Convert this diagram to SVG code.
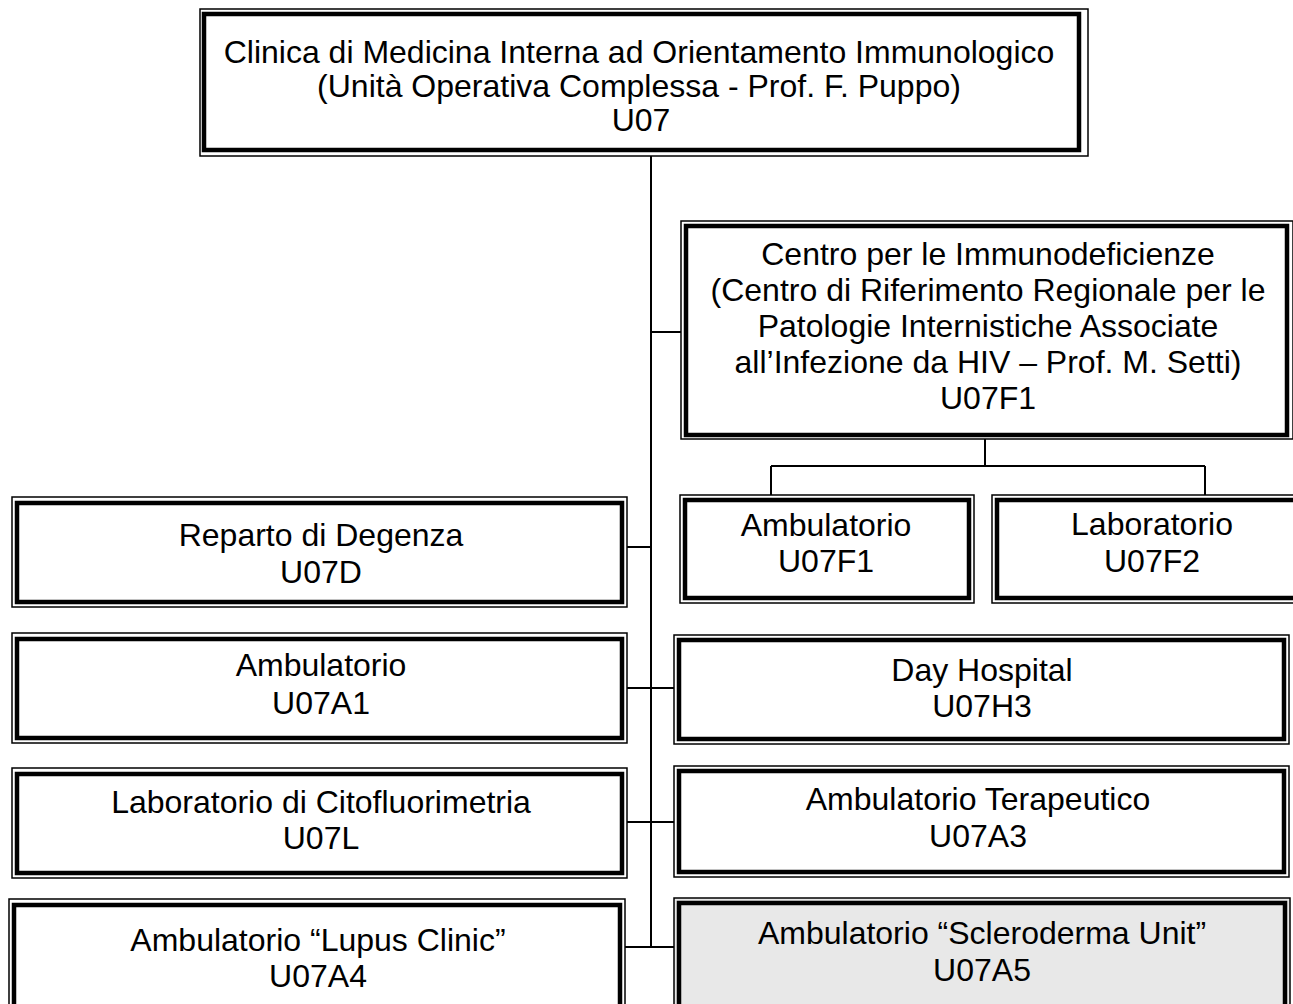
<svg xmlns="http://www.w3.org/2000/svg" width="1293" height="1004" viewBox="0 0 1293 1004">
<style>
.o{fill:none;stroke:#000;stroke-width:1.5}
.i{fill:none;stroke:#000;stroke-width:4.5}
.bg{fill:#fff}
.gray{fill:#e8e8e8}
text{font-family:"Liberation Sans",Arial,sans-serif;font-size:32px;fill:#000;text-anchor:middle}
.c line{stroke:#000;stroke-width:2}
</style>
<rect width="1293" height="1004" fill="#fff"/>
<g class="c" id="connectors">
<line x1="651" y1="156" x2="651" y2="948"/>
<line x1="651" y1="332" x2="681" y2="332"/>
<line x1="627" y1="547" x2="651" y2="547"/>
<line x1="627" y1="688" x2="674" y2="688"/>
<line x1="627" y1="822" x2="674" y2="822"/>
<line x1="625" y1="947" x2="674" y2="947"/>
<line x1="985" y1="439" x2="985" y2="466"/>
<line x1="771" y1="466" x2="1205" y2="466"/>
<line x1="771" y1="466" x2="771" y2="495"/>
<line x1="1205" y1="466" x2="1205" y2="495"/>
</g>
<g id="n-u07">
<rect class="bg" x="200" y="9" width="888" height="147"/>
<rect class="o" x="200" y="9" width="888" height="147"/>
<rect class="i" x="204" y="14" width="875" height="136"/>
<text x="639" y="63">Clinica di Medicina Interna ad Orientamento Immunologico</text>
<text x="639" y="97">(Unità Operativa Complessa - Prof. F. Puppo)</text>
<text x="641" y="131">U07</text>
</g>
<g id="n-u07f1-centro">
<rect class="bg" x="681" y="221" width="612" height="218"/>
<rect class="o" x="681" y="221" width="612" height="218"/>
<rect class="i" x="686" y="226" width="601" height="209"/>
<text x="988" y="265">Centro per le Immunodeficienze</text>
<text x="988" y="301">(Centro di Riferimento Regionale per le</text>
<text x="988" y="337">Patologie Internistiche Associate</text>
<text x="988" y="373">all’Infezione da HIV – Prof. M. Setti)</text>
<text x="988" y="409">U07F1</text>
</g>
<g id="n-u07f1-amb">
<rect class="bg" x="680" y="495" width="294" height="108"/>
<rect class="o" x="680" y="495" width="294" height="108"/>
<rect class="i" x="685" y="500" width="284" height="98"/>
<text x="826" y="536">Ambulatorio</text>
<text x="826" y="572">U07F1</text>
</g>
<g id="n-u07f2">
<rect class="bg" x="992" y="495" width="310" height="108"/>
<rect class="o" x="992" y="495" width="310" height="108"/>
<rect class="i" x="997" y="500" width="300" height="98"/>
<text x="1152" y="535">Laboratorio</text>
<text x="1152" y="572">U07F2</text>
</g>
<g id="n-u07d">
<rect class="bg" x="12" y="497" width="615" height="110"/>
<rect class="o" x="12" y="497" width="615" height="110"/>
<rect class="i" x="17" y="503" width="605" height="99"/>
<text x="321" y="546">Reparto di Degenza</text>
<text x="321" y="583">U07D</text>
</g>
<g id="n-u07a1">
<rect class="bg" x="12" y="633" width="615" height="110"/>
<rect class="o" x="12" y="633" width="615" height="110"/>
<rect class="i" x="17" y="639" width="605" height="99"/>
<text x="321" y="676">Ambulatorio</text>
<text x="321" y="714">U07A1</text>
</g>
<g id="n-u07l">
<rect class="bg" x="12" y="768" width="615" height="110"/>
<rect class="o" x="12" y="768" width="615" height="110"/>
<rect class="i" x="17" y="774" width="605" height="99"/>
<text x="321" y="813">Laboratorio di Citofluorimetria</text>
<text x="321" y="849">U07L</text>
</g>
<g id="n-u07a4">
<rect class="bg" x="9" y="899" width="616" height="115"/>
<rect class="o" x="9" y="899" width="616" height="115"/>
<rect class="i" x="14" y="905" width="606" height="104"/>
<text x="318" y="951">Ambulatorio “Lupus Clinic”</text>
<text x="318" y="987">U07A4</text>
</g>
<g id="n-u07h3">
<rect class="bg" x="674" y="635" width="615" height="109"/>
<rect class="o" x="674" y="635" width="615" height="109"/>
<rect class="i" x="679" y="640" width="605" height="99"/>
<text x="982" y="681">Day Hospital</text>
<text x="982" y="717">U07H3</text>
</g>
<g id="n-u07a3">
<rect class="bg" x="674" y="766" width="615" height="111"/>
<rect class="o" x="674" y="766" width="615" height="111"/>
<rect class="i" x="679" y="771" width="605" height="101"/>
<text x="978" y="810">Ambulatorio Terapeutico</text>
<text x="978" y="847">U07A3</text>
</g>
<g id="n-u07a5">
<rect class="gray" x="674" y="898" width="616" height="116"/>
<rect class="o" x="674" y="898" width="616" height="116"/>
<rect class="i" x="679" y="903" width="606" height="106"/>
<text x="982" y="944">Ambulatorio “Scleroderma Unit”</text>
<text x="982" y="981">U07A5</text>
</g>
</svg>
